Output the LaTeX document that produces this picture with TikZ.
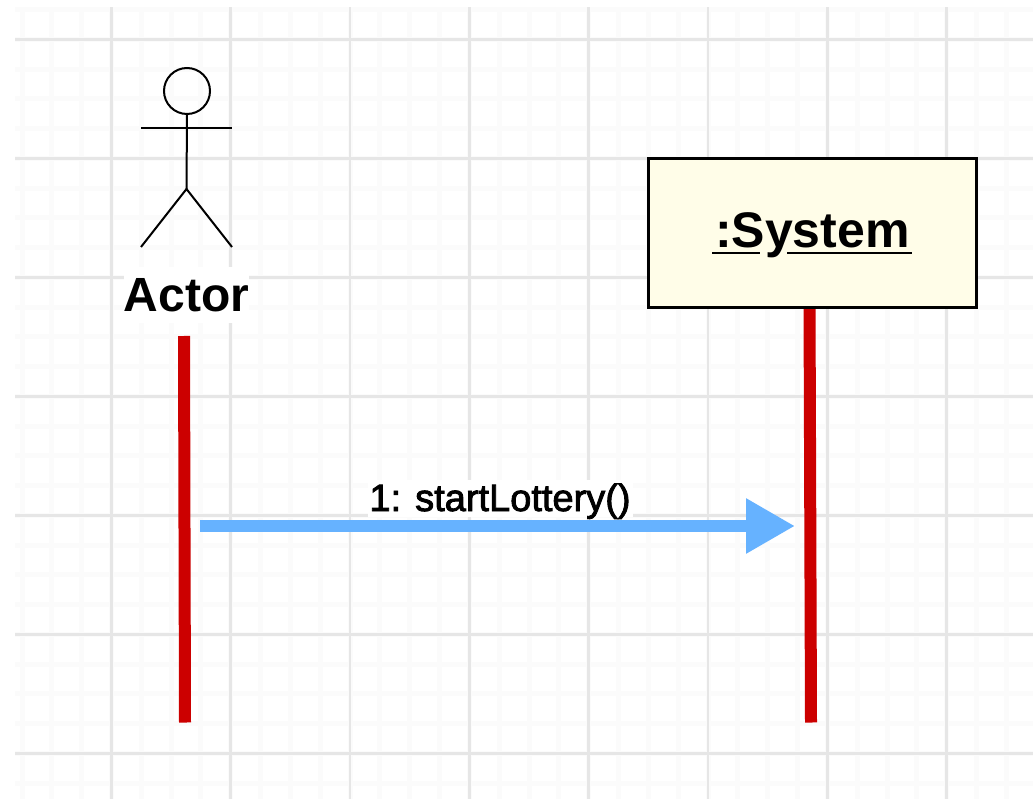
\documentclass[tikz,border=0pt]{standalone}
\usepackage{fontspec}
\setmainfont{Liberation Sans}
\newfontfamily\softbold[FakeBold=2.2]{Liberation Sans}
\usetikzlibrary{arrows.meta}
\definecolor{gridmajor}{HTML}{E6E6E6}
\definecolor{gridminor}{HTML}{FBFBFB}
\definecolor{lifered}{HTML}{CC0000}
\definecolor{msgblue}{HTML}{66B2FF}
\definecolor{boxfill}{HTML}{FFFDE8}
\tikzset{
  x=1pt,y=-1pt,
  majorline/.style={draw=gridmajor,line width=2.7pt},
  minorline/.style={draw=gridminor,line width=5pt},
  figure/.style={draw=black,line width=2pt},
  lifeline/.style={draw=lifered,line width=12pt},
  message/.style={draw=msgblue,line width=12pt,-{Triangle[length=49pt,width=52pt]}},
  lifebox/.style={draw=black,line width=3pt,fill=boxfill,minimum width=328pt,minimum height=149pt,inner sep=0pt,text height=36pt,text depth=5.6pt,font=\fontsize{50}{50}\selectfont\bfseries},
  actorname/.style={fill=white,minimum width=122pt,minimum height=56pt,inner sep=0pt,text height=37pt,text depth=3.6pt,font=\fontsize{48}{48}\selectfont\bfseries},
  msglabel/.style={fill=white,minimum width=265pt,minimum height=37pt,inner sep=0pt,text height=30pt,text depth=5pt,font=\fontsize{38}{38}\selectfont\softbold}
}
\begin{document}
\begin{tikzpicture}
\useasboundingbox (0,0) rectangle (1033,799);
\fill[white] (0,0) rectangle (1033,799);
\begin{scope}
\clip (15,8) rectangle (1033,799);
\foreach \k in {-3,...,30} {
  \draw[minorline] ({111.5+29.83*\k},0) -- ({111.5+29.83*\k},799);
  \draw[minorline] (0,{39.3+29.75*\k}) -- (1033,{39.3+29.75*\k});
}
\foreach \k in {0,...,7} \draw[majorline] ({111.5+119.3*\k},0) -- ({111.5+119.3*\k},799);
\foreach \k in {0,...,6} \draw[majorline] (0,{39.3+119*\k}) -- (1033,{39.3+119*\k});
\end{scope}
% actor figure
\node[circle,draw=black,line width=2pt,minimum size=46pt,inner sep=0pt] (head) at (187,91) {};
\coordinate (hip) at (186.5,189);
\coordinate (armL) at (141,128);
\coordinate (armR) at (232,128);
\coordinate (legL) at (141,247);
\coordinate (legR) at (232,247);
\draw[figure] (head.south) -- (hip);
\draw[figure] (armL) -- (armR);
\draw[figure] (legL) -- (hip) -- (legR);
\node[actorname] (actor) at (186.5,295) {Actor};
% lifelines
\coordinate (actorTop) at (184,336);
\coordinate (actorEnd) at (185,722.5);
\coordinate (sysTop) at (809.5,300);
\coordinate (sysEnd) at (811,722.5);
\draw[lifeline] (actorTop) -- (actorEnd);
\draw[lifeline] (sysTop) -- (sysEnd);
\node[lifebox] (system) at (812.4,232.8) {:System};
\draw[draw=black,line width=2.6pt] (712,253) -- (760,253) (787,253) -- (911.5,253);
% message
\coordinate (msgStart) at (200,526);
\coordinate (msgEnd) at (795,526);
\node[msglabel] (msg) at (500,498.5) {1: startLottery()};
\draw[message] (msgStart) -- (msgEnd);
\end{tikzpicture}
\end{document}
